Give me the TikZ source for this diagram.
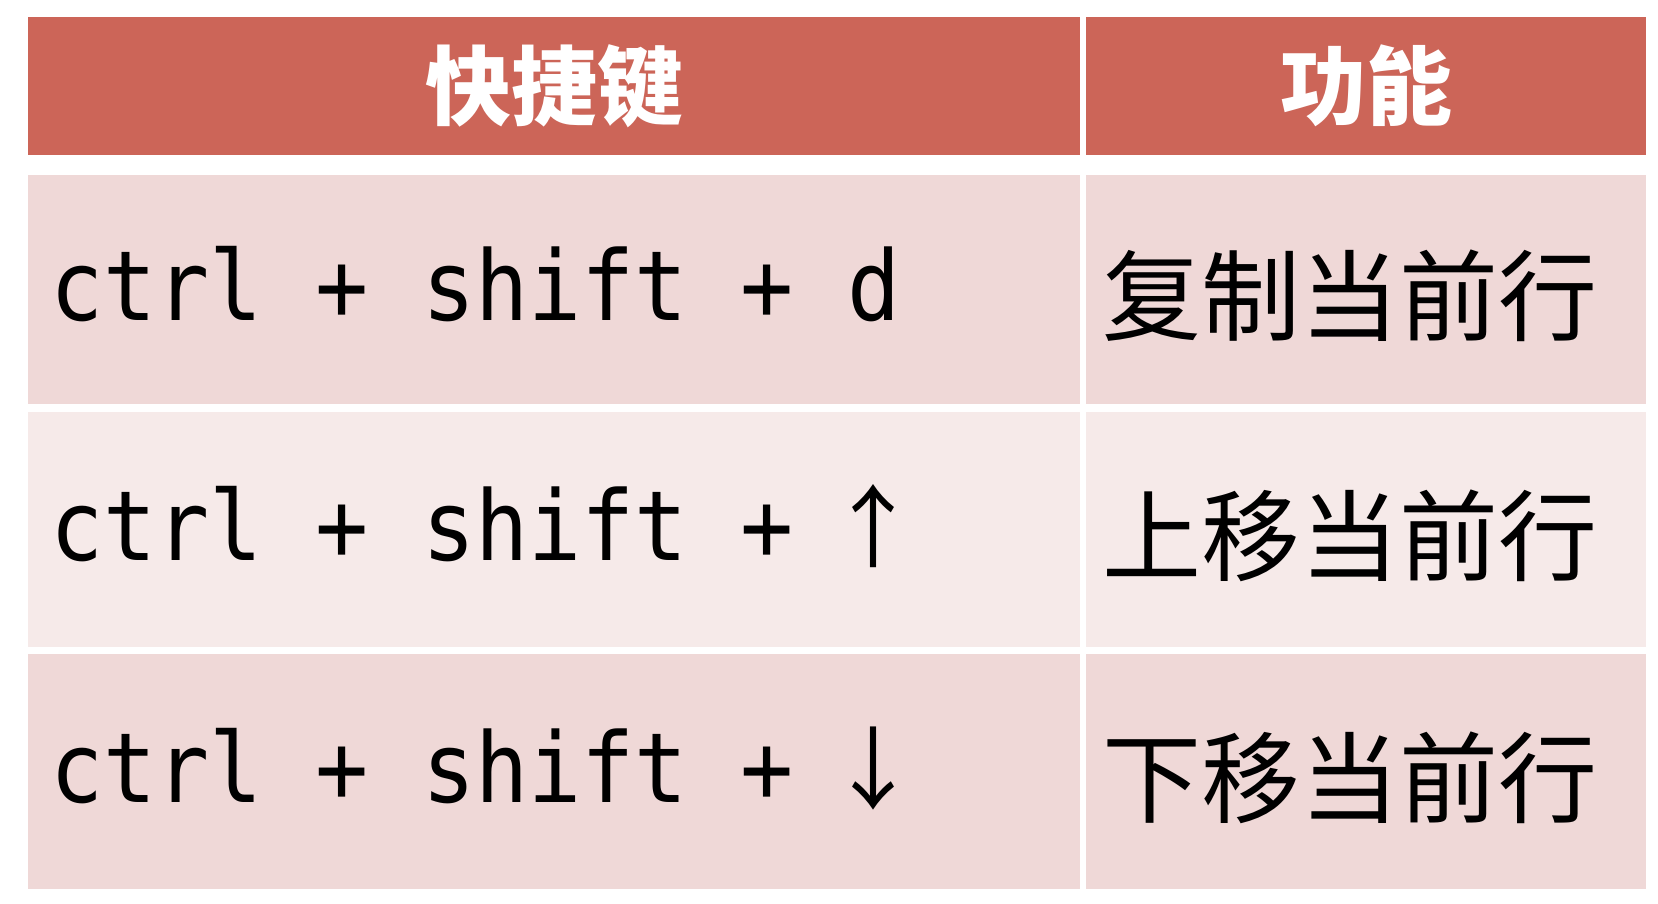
\documentclass[tikz,border=0pt]{standalone}
\usepackage{fontspec}
\newfontfamily\cjk{Noto Sans CJK SC}
\newfontfamily\keyfont[FakeStretch=0.91]{DejaVu Sans Mono}
\newcommand{\keyarrow}[1]{\makebox[53pt][c]{\cjk\fontsize{90}{100}\selectfont #1}}
\definecolor{headred}{RGB}{204,101,88}
\definecolor{rowdark}{RGB}{239,216,215}
\definecolor{rowlight}{RGB}{246,234,233}
\tikzset{
  cell/.style={rectangle, draw=none, inner sep=0pt, outer sep=0pt},
  headtext/.style={inner sep=0pt, text=white, font=\cjk\bfseries\fontsize{86}{96}\selectfont},
  keytext/.style={inner sep=0pt, anchor=base west, text=black, font=\keyfont\fontsize{97}{110}\selectfont},
  functext/.style={inner sep=0pt, anchor=west, text=black, font=\cjk\fontsize{99}{110}\selectfont},
}
\begin{document}
\begin{tikzpicture}[x=1pt,y=-1pt]
\useasboundingbox (0,0) rectangle (1658,904);
\fill[white] (0,0) rectangle (1658,904);
% header cells
\node[cell, fill=headred, minimum width=1052pt, minimum height=138pt] (h1) at (554,86) {};
\node[cell, fill=headred, minimum width=560pt, minimum height=138pt] (h2) at (1366,86) {};
% row 1
\node[cell, fill=rowdark, minimum width=1052pt, minimum height=229pt] (a1) at (554,289.5) {};
\node[cell, fill=rowdark, minimum width=560pt, minimum height=229pt] (b1) at (1366,289.5) {};
% row 2
\node[cell, fill=rowlight, minimum width=1052pt, minimum height=235pt] (a2) at (554,529.5) {};
\node[cell, fill=rowlight, minimum width=560pt, minimum height=235pt] (b2) at (1366,529.5) {};
% row 3
\node[cell, fill=rowdark, minimum width=1052pt, minimum height=235pt] (a3) at (554,771.5) {};
\node[cell, fill=rowdark, minimum width=560pt, minimum height=235pt] (b3) at (1366,771.5) {};
% header texts
\node[headtext] (t1) at (554,86) {快捷键};
\node[headtext] (t2) at (1366,86) {功能};
% key texts
\node[keytext] (k1) at (50,320) {ctrl + shift + d};
\node[keytext] (k2) at (50,560) {ctrl + shift + \keyarrow{↑}};
\node[keytext] (k3) at (50,802) {ctrl + shift + \keyarrow{↓}};
% function texts
\node[functext] (f1) at (1102,296) {复制当前行};
\node[functext] (f2) at (1102,536) {上移当前行};
\node[functext] (f3) at (1102,778) {下移当前行};
\end{tikzpicture}
\end{document}
